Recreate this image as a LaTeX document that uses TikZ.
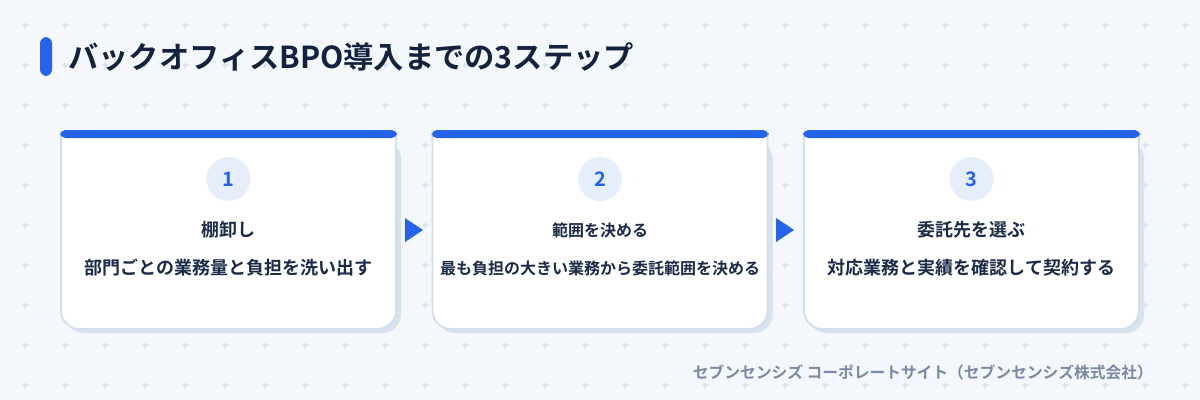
\documentclass[tikz,border=0pt]{standalone}
\usepackage{fontspec}
\setmainfont{Noto Sans CJK JP}[BoldFont={* Bold}]
\usepackage{tikz}
\definecolor{bgcol}{HTML}{F4F7FB}
\definecolor{stepblue}{HTML}{2563EB}
\definecolor{titlecol}{HTML}{13233F}
\definecolor{textcol}{HTML}{1B2B48}
\definecolor{circlecol}{HTML}{E6EEFC}
\definecolor{linecol}{HTML}{D2DDEE}
\definecolor{shadowcol}{HTML}{D8E1EE}
\definecolor{gridcol}{HTML}{DCE3EE}
\definecolor{footcol}{HTML}{7A8AA5}
\tikzset{
  gridmark/.style={gridcol, line width=0.8},
  cardbody/.style={fill=white, draw=linecol, line width=1.3, rounded corners=14},
  numcircle/.style={circle, fill=circlecol, minimum size=33pt, inner sep=0pt,
    text=stepblue, font=\bfseries\fontsize{15}{18}\selectfont},
  steptext/.style={text=textcol, font=\bfseries\fontsize{#1}{#1}\selectfont},
  titletext/.style={text=titlecol, font=\bfseries\fontsize{22.7}{26}\selectfont},
  foottext/.style={text=footcol, font=\bfseries\fontsize{11.8}{14}\selectfont}
}

\begin{document}
\begin{tikzpicture}[x=0.75pt,y=-0.75pt]
    % Background
    \fill[bgcol] (0,0) rectangle (1200,400);
    \useasboundingbox (0,0) rectangle (1200,400);

    % Grid marks
    \foreach \x in {25,65,...,1185}
        \foreach \y in {25,65,...,385}
            \draw[gridmark] (\x-2.5,\y) -- (\x+2.5,\y) (\x,\y-2.5) -- (\x,\y+2.5);

    % Title
    \fill[stepblue, rounded corners=5] (40,37) rectangle (52,76);
    \node[titletext, anchor=west, inner sep=0pt] (title) at (68,57) {バックオフィスBPO導入までの3ステップ};

    % Cards
    \foreach \x/\n/\fs/\head/\desc in {60/1/13.5/棚卸し/部門ごとの業務量と負担を洗い出す,
        431.5/2/12/範囲を決める/最も負担の大きい業務から委託範囲を決める,
        803/3/13.5/委託先を選ぶ/対応業務と実績を確認して契約する} {
        \fill[shadowcol, rounded corners=14] (\x+5,140) rectangle (\x+341,333);
        \begin{scope}
            \clip (\x-5,134) rectangle (\x+345,345);
            \filldraw[cardbody] (\x+1,110) rectangle (\x+336,329);
        \end{scope}
        \fill[stepblue, rounded corners=4] (\x,130) rectangle (\x+337,138);
        \node[numcircle] (num\n) at (\x+168.5,179) {\n};
        \node[steptext=\fs] (head\n) at (\x+168.5,230) {\head};
        \node[steptext=\fs] (desc\n) at (\x+168.5,268) {\desc};
    }

    % Arrows between cards
    \foreach \x in {405,776}
        \fill[stepblue] (\x,218) -- (\x+18,230) -- (\x,242) -- cycle;

    % Footer
    \node[foottext, anchor=east, inner sep=0pt] (footer) at (1153,372) {セブンセンシズ コーポレートサイト（セブンセンシズ株式会社）};
\end{tikzpicture}
\end{document}
